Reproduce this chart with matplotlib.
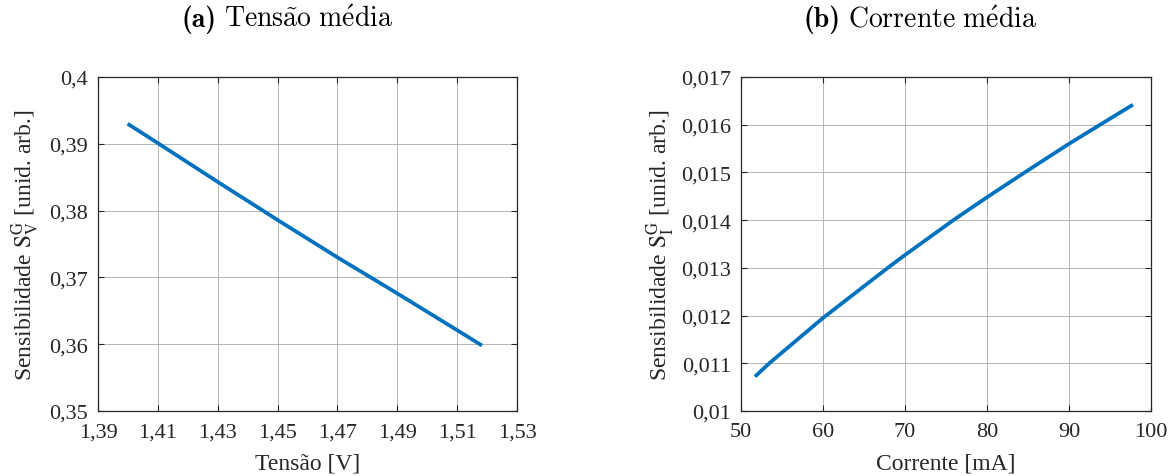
import matplotlib
matplotlib.use('Agg')
import matplotlib.pyplot as plt

# data
tensao = [1.3999, 1.41, 1.43, 1.45, 1.47, 1.49, 1.51, 1.5183]
sens_v = [0.3930, 0.3901, 0.3843, 0.3786, 0.3730, 0.3676, 0.3621, 0.3598]

corrente = [51.7, 53.45, 60, 67.9, 70, 75.9, 80, 84.6, 90, 93.8, 97.8]
sens_i = [0.01072, 0.0110, 0.01195, 0.0130, 0.01327, 0.0140, 0.01448,
          0.0150, 0.01560, 0.0160, 0.01642]

xt_v = [1.39, 1.41, 1.43, 1.45, 1.47, 1.49, 1.51, 1.53]
yt_v = [0.35, 0.36, 0.37, 0.38, 0.39, 0.40]
xt_i = [50, 60, 70, 80, 90, 100]
yt_i = [0.010, 0.011, 0.012, 0.013, 0.014, 0.015, 0.016, 0.017]


def br(v):
    return ('%g' % v).replace('.', ',')


plt.rcParams['font.family'] = ['Liberation Serif', 'DejaVu Serif']

W, H = 1175, 477
fig = plt.figure(figsize=(W/100, H/100), dpi=100)
ax1 = fig.add_axes([98/W, 1-412/H, 419/W, 334/H])
ax2 = fig.add_axes([741/W, 1-412/H, 410/W, 334/H])

blue = '#0072BD'
ax1.plot(tensao, sens_v, color=blue, lw=2.7, solid_capstyle='butt')
ax2.plot(corrente, sens_i, color=blue, lw=2.7, solid_capstyle='butt')

setups = [
    (ax1, xt_v, yt_v, 'Tensão [V]', r'Sensibilidade $\mathrm{S}_\mathrm{V}^\mathrm{G}$ [unid. arb.]', -0.134),
    (ax2, xt_i, yt_i, 'Corrente [mA]', r'Sensibilidade $\mathrm{S}_\mathrm{I}^\mathrm{G}$ [unid. arb.]', -0.156),
]
for ax, xt, yt, xl, yl, ylx in setups:
    ax.set_xlim(xt[0], xt[-1])
    ax.set_ylim(yt[0], yt[-1])
    ax.set_xticks(xt, [br(v) for v in xt])
    ax.set_yticks(yt, [br(v) for v in yt])
    ax.grid(True, color='#b4b4b4', lw=0.7)
    ax.set_axisbelow(True)
    ax.tick_params(direction='in', length=4, top=True, right=True,
                   labelsize=16, colors='#262626')
    ax.tick_params(axis='x', pad=8)
    ax.tick_params(axis='y', pad=7)
    for sp in ax.spines.values():
        sp.set_color('#262626')
        sp.set_linewidth(0.9)
    ax.set_xlabel(xl, fontsize=17, color='#262626')
    ax.set_ylabel(yl, fontsize=17, color='#262626', math_fontfamily='stix')
    ax.xaxis.set_label_coords(0.5, -0.125)
    ax.yaxis.set_label_coords(ylx, 0.5)

ty = 1 - 20/H
fig.text(217/W, ty, '(a)', ha='right', va='center', fontsize=20,
         fontfamily='cmb10')
fig.text(224/W, ty, r'$\mathrm{Tens\tilde{a}o\ m\acute{e}dia}$',
         ha='left', va='center', fontsize=20, math_fontfamily='cm')
fig.text(841/W, ty, '(b)', ha='right', va='center', fontsize=20,
         fontfamily='cmb10')
fig.text(848/W, ty, r'$\mathrm{Corrente\ m\acute{e}dia}$',
         ha='left', va='center', fontsize=20, math_fontfamily='cm')

fig.savefig('out.png', dpi=100, facecolor='white')
